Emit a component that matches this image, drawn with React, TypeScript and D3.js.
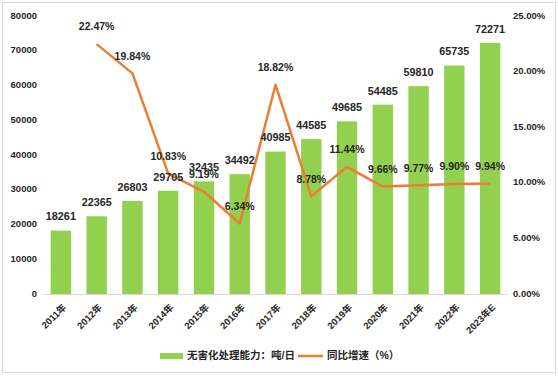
import React from "react";
import * as d3 from "d3";

const categories = ["2011年", "2012年", "2013年", "2014年", "2015年", "2016年", "2017年", "2018年", "2019年", "2020年", "2021年", "2022年", "2023年E"];
const capacity = [18261, 22365, 26803, 29705, 32435, 34492, 40985, 44585, 49685, 54485, 59810, 65735, 72271];
const growth: (number | null)[] = [null, 22.47, 19.84, 10.83, 9.19, 6.34, 18.82, 8.78, 11.44, 9.66, 9.77, 9.90, 9.94];
const leftTicks = [0, 10000, 20000, 30000, 40000, 50000, 60000, 70000, 80000];
const rightTicks = [0, 5, 10, 15, 20, 25];
const seriesNames = ["无害化处理能力：吨/日", "同比增速（%）"];

const W = 558, H = 376;
const FONT = "'Liberation Sans', 'Noto Sans CJK SC', sans-serif";
const BAR = "#92d050";
const LINE = "#ed7d31";
const TXT = "#262626";

export default function App() {
  const x = d3.scaleBand<string>().domain(categories).range([43, 508]).paddingInner(0.43).paddingOuter(0.215);
  const yL = d3.scaleLinear().domain([0, 80000]).range([294, 16]);
  const yR = d3.scaleLinear().domain([0, 25]).range([294, 16]);
  const cx = (c: string) => (x(c) as number) + x.bandwidth() / 2;

  const pts = categories
    .map((c, i) => ({ c, v: growth[i] }))
    .filter((d) => d.v !== null) as { c: string; v: number }[];
  const lineGen = d3.line<{ c: string; v: number }>().x((d) => cx(d.c)).y((d) => yR(d.v));

  return (
    <svg width={W} height={H} style={{ position: "absolute", left: 0, top: 0 }}>
      <rect x={0} y={0} width={W} height={H} fill="#fff" />
      <rect x={2.5} y={2.5} width={553} height={370} fill="none" stroke="#d9d9d9" strokeWidth={1} />
      <line x1={43} x2={508} y1={294.5} y2={294.5} stroke="#d9d9d9" strokeWidth={1} />
      {leftTicks.map((t) => (
        <text key={"l" + t} x={37} y={yL(t)} textAnchor="end" dominantBaseline="middle" fontFamily={FONT} fontWeight="bold" fontSize={9.5} fill={TXT}>
          {t}
        </text>
      ))}
      {rightTicks.map((t) => (
        <text key={"r" + t} x={513} y={yR(t)} textAnchor="start" dominantBaseline="middle" fontFamily={FONT} fontWeight="bold" fontSize={9.5} fill={TXT}>
          {t.toFixed(2) + "%"}
        </text>
      ))}
      {categories.map((c, i) => (
        <rect key={"b" + c} x={x(c)} y={yL(capacity[i])} width={x.bandwidth()} height={294 - yL(capacity[i])} fill={BAR} />
      ))}
      <path d={lineGen(pts) || ""} fill="none" stroke={LINE} strokeWidth={2.5} strokeLinejoin="round" />
      {categories.map((c, i) => (
        <text key={"bl" + c} x={cx(c)} y={yL(capacity[i]) - 13} textAnchor="middle" dominantBaseline="middle" fontFamily={FONT} fontWeight="bold" fontSize={10.8} fill={TXT}>
          {capacity[i]}
        </text>
      ))}
      {pts.map((d) => (
        <text key={"ll" + d.c} x={cx(d.c)} y={yR(d.v) - 16.5} textAnchor="middle" dominantBaseline="middle" fontFamily={FONT} fontWeight="bold" fontSize={10.5} fill={TXT}>
          {d.v.toFixed(2) + "%"}
        </text>
      ))}
      {categories.map((c) => (
        <text key={"x" + c} transform={`translate(${cx(c) + 6},${308}) rotate(-45)`} textAnchor="end" fontFamily={FONT} fontWeight="bold" fontSize={9.5} fill={TXT}>
          {c}
        </text>
      ))}
      <rect x={160} y={353} width={23} height={6} fill={BAR} />
      <text x={187} y={356} dominantBaseline="middle" fontFamily={FONT} fontWeight="bold" fontSize={10.5} fill={TXT}>
        {seriesNames[0]}
      </text>
      <line x1={298} x2={323} y1={356} y2={356} stroke={LINE} strokeWidth={2.5} />
      <text x={327} y={356} dominantBaseline="middle" fontFamily={FONT} fontWeight="bold" fontSize={10.5} fill={TXT}>
        {seriesNames[1]}
      </text>
    </svg>
  );
}
